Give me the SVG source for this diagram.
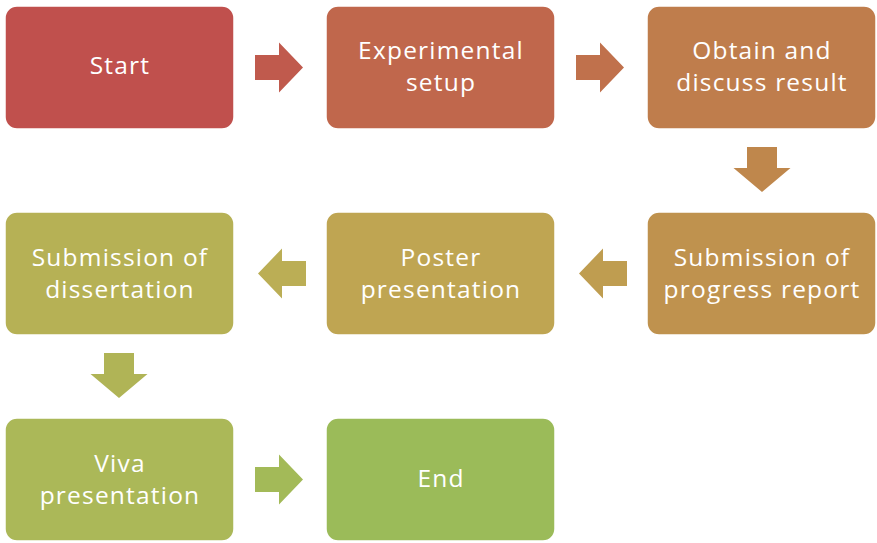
<svg xmlns="http://www.w3.org/2000/svg" width="877" height="543" viewBox="0 0 877 543">
<style>
.box{stroke:#ffffff;stroke-width:1.5}
.t{font-family:"Open Sans","Liberation Sans",sans-serif;font-size:24.5px;letter-spacing:1.2px;fill:#ffffff;text-anchor:middle}
</style>
<defs>
<path id="ar" d="M0,-12.5 H24 V-25 L48,0 L24,25 V12.5 H0 Z"/>
<path id="ad" d="M-15,0 H15 V21 H28.5 L0,45 L-28.5,21 H-15 Z"/>
</defs>
<rect width="877" height="543" fill="#ffffff"/>
<g id="connectors">
<use href="#ar" transform="translate(255,67.5)" fill="#C05A4D"/>
<use href="#ar" transform="translate(576,67.5)" fill="#C0714C"/>
<use href="#ad" transform="translate(762,147)" fill="#BF874C"/>
<use href="#ar" transform="translate(627,273.5) scale(-1,1)" fill="#BF9D50"/>
<use href="#ar" transform="translate(306,273.5) scale(-1,1)" fill="#BBAE55"/>
<use href="#ad" transform="translate(119,353)" fill="#B0B456"/>
<use href="#ar" transform="translate(255,479.5)" fill="#A3BA58"/>
</g>
<g id="start">
<rect class="box" x="5" y="6" width="229" height="123" rx="12" fill="#C0504D"/>
<text class="t" x="120" y="74">Start</text>
</g>
<g id="experimental">
<rect class="box" x="326" y="6" width="229" height="123" rx="12" fill="#C0674C"/>
<text class="t" x="441" y="59">Experimental</text>
<text class="t" x="441" y="91">setup</text>
</g>
<g id="obtain">
<rect class="box" x="647" y="6" width="229" height="123" rx="12" fill="#BF7D4C"/>
<text class="t" x="762" y="59">Obtain and</text>
<text class="t" x="762" y="91">discuss result</text>
</g>
<g id="progress">
<rect class="box" x="647" y="212" width="229" height="123" rx="12" fill="#BF924E"/>
<text class="t" x="762" y="266">Submission of</text>
<text class="t" x="762" y="298">progress report</text>
</g>
<g id="poster">
<rect class="box" x="326" y="212" width="229" height="123" rx="12" fill="#BFA552"/>
<text class="t" x="441" y="266">Poster</text>
<text class="t" x="441" y="298">presentation</text>
</g>
<g id="dissertation">
<rect class="box" x="5" y="212" width="229" height="123" rx="12" fill="#B6B155"/>
<text class="t" x="120" y="266">Submission of</text>
<text class="t" x="120" y="298">dissertation</text>
</g>
<g id="viva">
<rect class="box" x="5" y="418" width="229" height="123" rx="12" fill="#ABB858"/>
<text class="t" x="120" y="472">Viva</text>
<text class="t" x="120" y="504">presentation</text>
</g>
<g id="end">
<rect class="box" x="326" y="418" width="229" height="123" rx="12" fill="#9BBB59"/>
<text class="t" x="441" y="487">End</text>
</g>
</svg>
